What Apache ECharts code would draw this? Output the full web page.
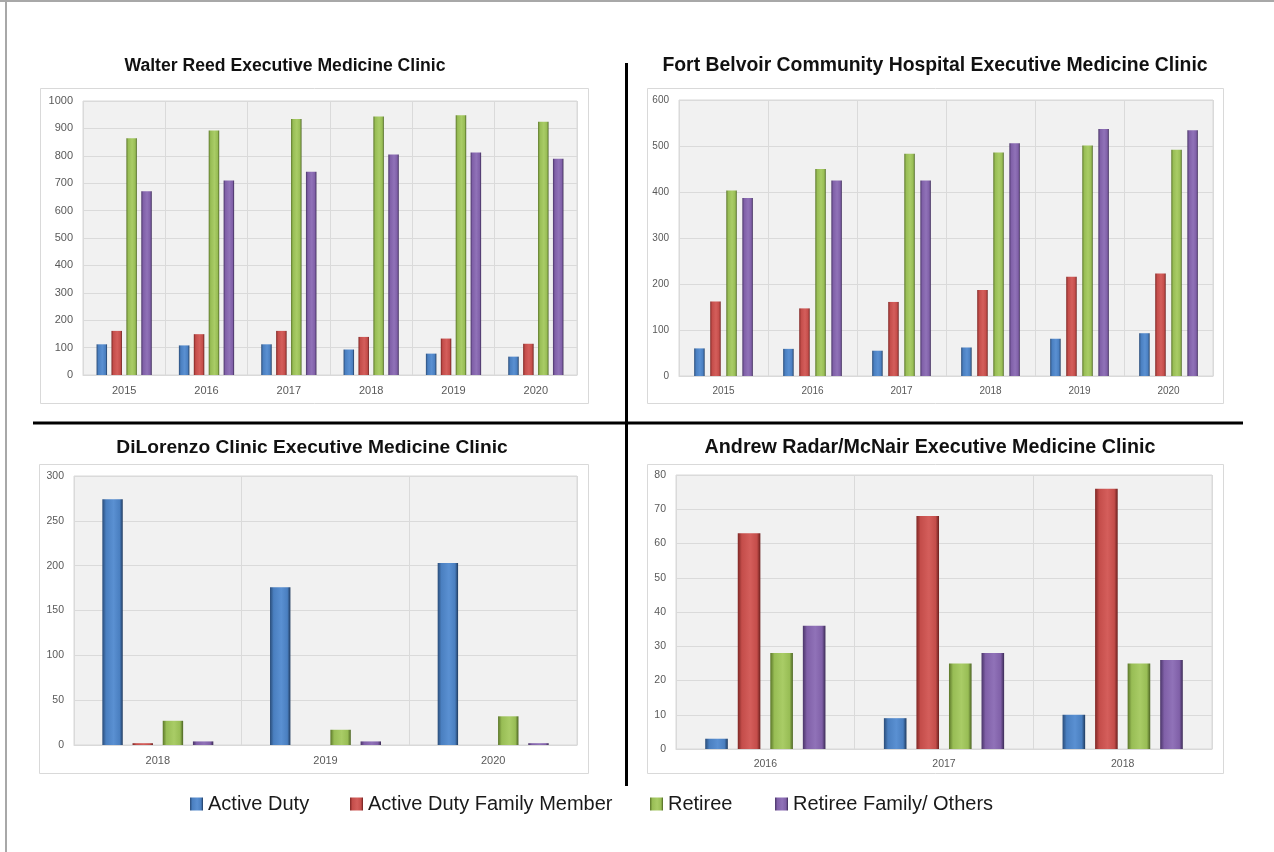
<!DOCTYPE html>
<html>
<head>
<meta charset="utf-8">
<script src="https://cdn.jsdelivr.net/npm/echarts@6/dist/echarts.min.js"></script>
<style>
html,body{margin:0;padding:0;background:#fff;}
#main{width:1274px;height:852px;}
</style>
</head>
<body>
<div id="main"></div>
<script>
// ---- Data ----
const seriesNames = ['Active Duty', 'Active Duty Family Member', 'Retiree', 'Retiree Family/ Others'];

const wrTitle = 'Walter Reed Executive Medicine Clinic';
const wrYears = ['2015', '2016', '2017', '2018', '2019', '2020'];
const wrActiveDuty = [112, 108, 112, 93, 78, 67];
const wrFamily = [161, 149, 161, 139, 133, 114];
const wrRetiree = [864, 892, 934, 943, 948, 924];
const wrRetireeFamily = [671, 710, 742, 805, 812, 789];

const fbTitle = 'Fort Belvoir Community Hospital Executive Medicine Clinic';
const fbYears = ['2015', '2016', '2017', '2018', '2019', '2020'];
const fbActiveDuty = [60, 59, 55, 62, 81, 93];
const fbFamily = [162, 147, 161, 187, 216, 223];
const fbRetiree = [403, 450, 483, 486, 501, 492];
const fbRetireeFamily = [387, 425, 425, 506, 537, 534];

const dlTitle = 'DiLorenzo Clinic Executive Medicine Clinic';
const dlYears = ['2018', '2019', '2020'];
const dlActiveDuty = [274, 176, 203];
const dlFamily = [2, 0, 0];
const dlRetiree = [27, 17, 32];
const dlRetireeFamily = [4, 4, 2];

const arTitle = 'Andrew Radar/McNair Executive Medicine Clinic';
const arYears = ['2016', '2017', '2018'];
const arActiveDuty = [3, 9, 10];
const arFamily = [63, 68, 76];
const arRetiree = [28, 25, 25];
const arRetireeFamily = [36, 28, 26];

// ---- Styling ----
const G = (c0, c1, c2, c3) => new echarts.graphic.LinearGradient(0, 0, 1, 0, [
  {offset: 0, color: c0}, {offset: 0.18, color: c1}, {offset: 0.55, color: c2},
  {offset: 0.85, color: c1}, {offset: 1, color: c3}
]);
const barColors = [
  G('#2a4c78', '#4a7fc0', '#5a90d2', '#1f3a5e'),
  G('#7e2624', '#c44d4a', '#d45e5b', '#6a1f1d'),
  G('#5b7629', '#98bd55', '#a9cc66', '#4b6322'),
  G('#4a3568', '#8060a8', '#9072b8', '#3b2a55')
];

const panels = [
  {title: wrTitle, tx: 285, ty: 56, ts: 17.6, years: wrYears, data: [wrActiveDuty, wrFamily, wrRetiree, wrRetireeFamily],
   max: 1000, interval: 100, grid: {left: 83, right: 697, top: 101, bottom: 477}, barWidth: 10.5, barGap: '42%', fy: 11, fx: 11,
   frame: [40, 88, 548, 315]},
  {title: fbTitle, tx: 935, ty: 56, ts: 19.4, years: fbYears, data: [fbActiveDuty, fbFamily, fbRetiree, fbRetireeFamily],
   max: 600, interval: 100, grid: {left: 679, right: 61, top: 100, bottom: 476}, barWidth: 10.5, barGap: '53%', fy: 10, fx: 10,
   frame: [647, 88, 576, 315]},
  {title: dlTitle, tx: 312, ty: 438, ts: 19.2, years: dlYears, data: [dlActiveDuty, dlFamily, dlRetiree, dlRetireeFamily],
   max: 300, interval: 50, grid: {left: 74, right: 697, top: 476, bottom: 107}, barWidth: 20.4, barGap: '48%', fy: 10.5, fx: 11,
   frame: [39, 464, 549, 309]},
  {title: arTitle, tx: 930, ty: 438, ts: 19.7, years: arYears, data: [arActiveDuty, arFamily, arRetiree, arRetireeFamily],
   max: 80, interval: 10, grid: {left: 676, right: 62, top: 475, bottom: 103}, barWidth: 22.6, barGap: '44%', fy: 10.5, fx: 10.5,
   frame: [647, 464, 576, 309]}
];

const titleFont = "'Liberation Sans', sans-serif";
const labelFont = "'Liberation Sans', sans-serif";

const option = {
  animation: false,
  backgroundColor: '#ffffff',
  title: panels.map(p => ({
    text: p.title, left: p.tx, top: p.ty, textAlign: 'center', padding: 0,
    textStyle: {fontFamily: titleFont, fontWeight: 'bold', fontSize: p.ts, lineHeight: 20, color: '#111'}
  })),
  legend: [190, 350, 650, 775].map((x, i) => ({
    data: [seriesNames[i]], left: x, top: 794, padding: 0,
    itemWidth: 13, itemHeight: 13, icon: 'rect',
    textStyle: {fontFamily: labelFont, fontSize: 20, lineHeight: 20, color: '#1a1a1a'}
  })),
  grid: panels.map(p => Object.assign({
    show: true, backgroundColor: '#f1f1f1', borderColor: '#d9d9d9', borderWidth: 1
  }, p.grid)),
  xAxis: panels.map((p, i) => ({
    type: 'category', gridIndex: i, data: p.years,
    axisLine: {show: true, lineStyle: {color: '#d9d9d9'}},
    axisTick: {show: false},
    axisLabel: {color: '#595959', fontFamily: labelFont, fontSize: p.fx, margin: 10},
    splitLine: {show: true, interval: 0, lineStyle: {color: '#dadada'}}
  })),
  yAxis: panels.map((p, i) => ({
    type: 'value', gridIndex: i, min: 0, max: p.max, interval: p.interval,
    axisLine: {show: false}, axisTick: {show: false},
    axisLabel: {color: '#595959', fontFamily: labelFont, fontSize: p.fy, margin: 10, formatter: v => String(v)},
    splitLine: {show: true, lineStyle: {color: '#dadada'}}
  })),
  series: [],
  graphic: []
};

panels.forEach((p, i) => {
  p.data.forEach((vals, s) => {
    option.series.push({
      type: 'bar', name: seriesNames[s], xAxisIndex: i, yAxisIndex: i,
      data: vals, barWidth: p.barWidth, barGap: p.barGap,
      itemStyle: {color: barColors[s], borderWidth: 0}
    });
  });
  option.graphic.push({
    type: 'rect', z: -10, silent: true,
    shape: {x: p.frame[0] + 0.5, y: p.frame[1] + 0.5, width: p.frame[2], height: p.frame[3]},
    style: {fill: '#ffffff', stroke: '#d9d9d9', lineWidth: 1}
  });
});

// dividers and page border
option.graphic.push(
  {type: 'rect', silent: true, shape: {x: 625, y: 63, width: 3, height: 723}, style: {fill: '#000'}},
  {type: 'rect', silent: true, shape: {x: 33, y: 421.5, width: 1210, height: 3}, style: {fill: '#000'}},
  {type: 'rect', silent: true, shape: {x: 0, y: 0, width: 1274, height: 2}, style: {fill: '#a8a8a8'}},
  {type: 'rect', silent: true, shape: {x: 5, y: 0, width: 2, height: 852}, style: {fill: '#a8a8a8'}}
);

const chart = echarts.init(document.getElementById('main'), null, {renderer: 'canvas'});
chart.setOption(option);
</script>
</body>
</html>
